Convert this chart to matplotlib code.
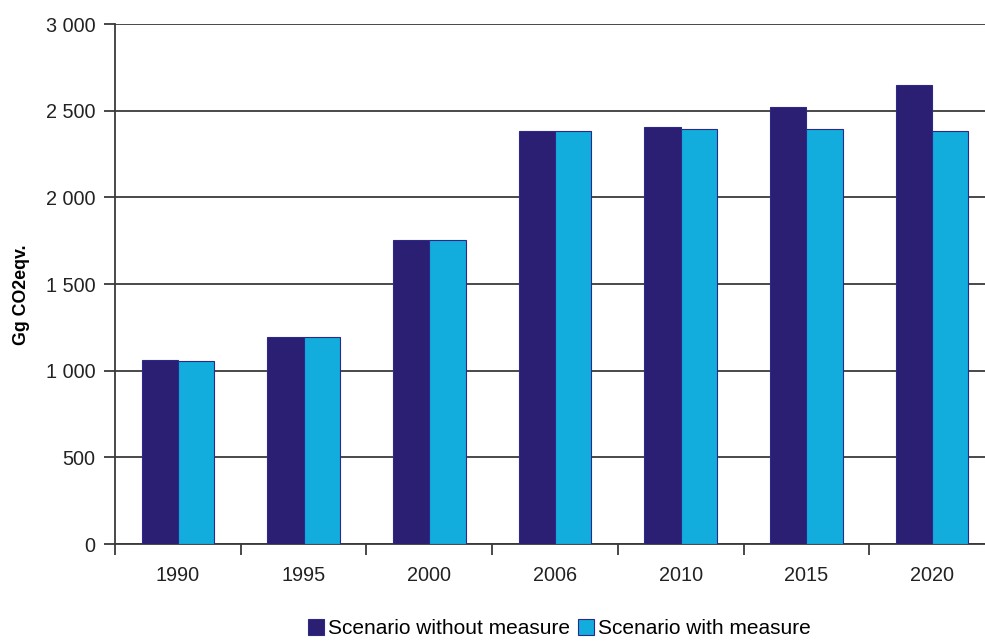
import numpy as np
import matplotlib.pyplot as plt
from matplotlib.ticker import FuncFormatter, FixedLocator

plt.rcParams['font.family'] = ['Liberation Sans', 'DejaVu Sans']

# data
years = ['1990', '1995', '2000', '2006', '2010', '2015', '2020']
without_measure = [1060, 1195, 1755, 2385, 2408, 2523, 2650]
with_measure = [1058, 1192, 1755, 2385, 2395, 2395, 2385]

dark = '#2b1f73'
light = '#12addc'
edge = '#2b2a8a'

fig = plt.figure(figsize=(9.85, 6.43), dpi=100)
ax = fig.add_axes([115/985, 99/643, 880/985, 520/643])

x = np.arange(len(years))
w = 0.289
ax.bar(x - w/2, without_measure, w, color=dark, edgecolor=edge, linewidth=0.8,
       label='Scenario without measure', zorder=3)
ax.bar(x + w/2, with_measure, w, color=light, edgecolor=edge, linewidth=0.8,
       label='Scenario with measure', zorder=3)

ax.set_xlim(-0.5, len(years) - 0.5)
ax.set_ylim(0, 3000)
ax.set_yticks(np.arange(0, 3001, 500))
ax.yaxis.set_major_formatter(FuncFormatter(lambda v, p: '{:,}'.format(int(v)).replace(',', ' ')))
ax.grid(axis='y', color='#3a3a3a', linewidth=1.3, zorder=0)

ax.set_xticks(x)
ax.set_xticklabels(years)
ax.xaxis.set_minor_locator(FixedLocator(np.arange(-0.5, len(years), 1)))
ax.tick_params(axis='x', which='major', length=0, pad=16, labelsize=14.3, colors='#222222')
ax.tick_params(axis='x', which='minor', length=8, width=1.3, color='#3a3a3a')
ax.tick_params(axis='y', length=8, width=1.3, color='#3a3a3a', labelsize=14.3, pad=6,
               labelcolor='#222222')

for s in ['top', 'right']:
    ax.spines[s].set_visible(False)
for s in ['left', 'bottom']:
    ax.spines[s].set_color('#3a3a3a')
    ax.spines[s].set_linewidth(1.3)

ax.set_ylabel('Gg CO2eqv.', fontsize=12.8, fontweight='bold')
ax.yaxis.set_label_coords(-0.097, 0.479)

ax.legend(loc='center', bbox_to_anchor=(0.505, -0.163), ncol=2, frameon=False,
          fontsize=15, handlelength=0.75, handleheight=0.75, handletextpad=0.2,
          columnspacing=0.4, borderpad=0.1)

plt.savefig('out.png', dpi=100)
